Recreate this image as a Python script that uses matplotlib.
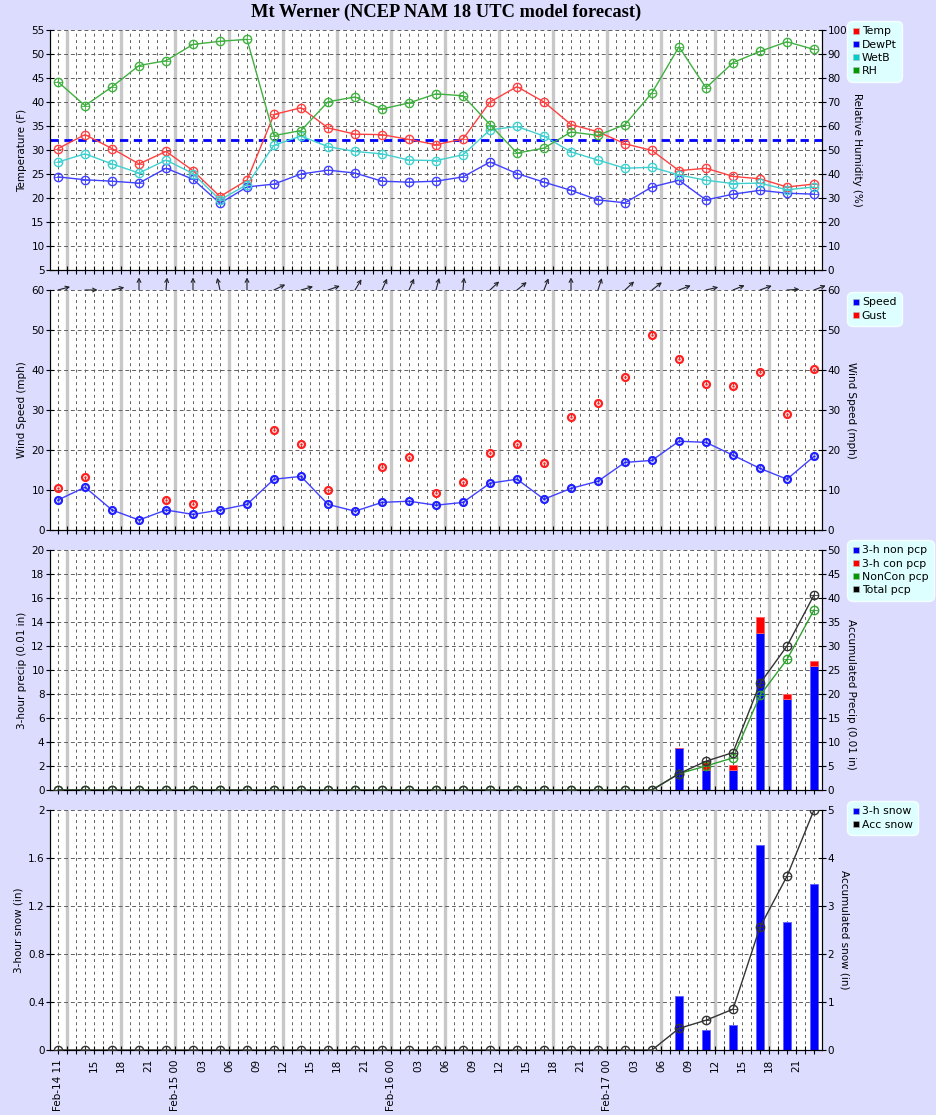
import numpy as np
import matplotlib
matplotlib.use('Agg')
import matplotlib.pyplot as plt
from matplotlib.lines import Line2D
from matplotlib import transforms

plt.rcParams['font.family'] = ['DejaVu Sans']
plt.rcParams['font.size'] = 7.5

# forecast hours (hours after Feb-14 00), every 3 h
valid_hours = [11, 14, 17, 20, 23, 26, 29, 32, 35, 38, 41, 44, 47, 50, 53,
               56, 59, 62, 65, 68, 71, 74, 77, 80, 83, 86, 89, 92, 95]

tick_hours = [11, 15, 18, 21, 24, 27, 30, 33, 36, 39, 42, 45, 48, 51, 54,
              57, 60, 63, 66, 69, 72, 75, 78, 81, 84, 87, 90, 93]
tick_labels = ["Feb-14 11", "15", "18", "21", "Feb-15 00", "03", "06", "09",
               "12", "15", "18", "21", "Feb-16 00", "03", "06", "09", "12",
               "15", "18", "21", "Feb-17 00", "03", "06", "09", "12", "15",
               "18", "21"]

temp = [30.3, 33.2, 30.3, 27.1, 29.7, 25.7, 20.3, 23.7, 37.4, 38.8, 34.6, 33.3,
        33.2, 32.2, 31.1, 32.3, 40.0, 43.2, 40.0, 35.3, 33.8, 31.3, 29.9, 25.7,
        26.2, 24.5, 24.0, 22.3, 22.9]
dewpt = [24.4, 23.8, 23.5, 23.1, 26.2, 23.9, 18.9, 22.3, 22.9, 25.0, 25.8, 25.2,
         23.5, 23.3, 23.5, 24.4, 27.5, 25.1, 23.3, 21.6, 19.6, 19.0, 22.3, 23.7,
         19.6, 20.8, 21.6, 21.0, 20.8]
wetb = [27.5, 29.2, 27.1, 25.2, 27.9, 25.1, 19.6, 22.8, 31.0, 32.9, 30.7, 29.7,
        29.2, 27.9, 27.8, 29.0, 34.2, 34.9, 32.9, 29.6, 27.9, 26.2, 26.4, 24.8,
        23.7, 23.0, 23.1, 21.7, 22.3]
rh = [78.4, 68.5, 76.3, 85.2, 87.2, 94.0, 95.3, 96.1, 56.0, 58.1, 70.1, 72.1,
      67.1, 69.6, 73.4, 72.6, 60.6, 48.7, 50.8, 57.5, 56.1, 60.6, 73.8, 93.0,
      75.9, 86.4, 91.1, 95.1, 91.9]
freezing = 32

wind_speed = [7.5, 10.7, 5.0, 2.5, 5.0, 3.9, 5.0, 6.4, 12.7, 13.4, 6.4, 4.7,
              6.9, 7.2, 6.2, 6.9, 11.7, 12.7, 7.7, 10.4, 12.2, 16.9, 17.4, 22.2,
              21.9, 18.7, 15.4, 12.7, 18.4]
wind_gust = [10.4, 13.2, np.nan, np.nan, 7.5, 6.5, np.nan, np.nan, 25.0, 21.4,
             10.0, np.nan, 15.7, 18.2, 9.2, 11.9, 19.2, 21.4, 16.7, 28.2, 31.7,
             38.3, 48.7, 42.7, 36.4, 35.9, 39.4, 28.9, 40.2]
# direction wind blows from (deg)
wind_dir = [255, 270, 258, 180, 185, 180, 167, 180, 244, 254, 251, 211, 204,
            204, 195, 185, 227, 231, 201, 180, 198, 227, 232, 249, 257, 248,
            250, 267, 249]

pcp_noncon = [0, 0, 0, 0, 0, 0, 0, 0, 0, 0, 0, 0, 0, 0, 0, 0, 0, 0, 0, 0, 0, 0,
              0, 3.5, 1.7, 1.7, 13.1, 7.6, 10.3]
pcp_con = [0, 0, 0, 0, 0, 0, 0, 0, 0, 0, 0, 0, 0, 0, 0, 0, 0, 0, 0, 0, 0, 0,
           0, 0, 0.75, 0.35, 1.3, 0.4, 0.45]
acc_noncon = [0, 0, 0, 0, 0, 0, 0, 0, 0, 0, 0, 0, 0, 0, 0, 0, 0, 0, 0, 0, 0, 0,
              0, 3.4, 5.0, 6.7, 19.7, 27.2, 37.5]
acc_total = [0, 0, 0, 0, 0, 0, 0, 0, 0, 0, 0, 0, 0, 0, 0, 0, 0, 0, 0, 0, 0, 0,
             0, 3.4, 6.0, 7.8, 22.2, 30.0, 40.6]

snow_3h = [0, 0, 0, 0, 0, 0, 0, 0, 0, 0, 0, 0, 0, 0, 0, 0, 0, 0, 0, 0, 0, 0,
           0, 0.45, 0.17, 0.21, 1.71, 1.07, 1.38]
snow_acc = [0, 0, 0, 0, 0, 0, 0, 0, 0, 0, 0, 0, 0, 0, 0, 0, 0, 0, 0, 0, 0, 0,
            0, 0.45, 0.62, 0.85, 2.56, 3.62, 5.0]

BG = '#dcdcff'
fig = plt.figure(figsize=(9.37, 11.15), dpi=100, facecolor=BG)
W, H = 937.0, 1115.0
left, width = 50 / W, 772 / W
tops = [30, 290, 550, 810]


def make_axes(top):
    ax = fig.add_axes([left, 1 - (top + 240) / H, width, 240 / H])
    ax.set_facecolor('white')
    ax.set_xlim(10.11, 95.89)
    for h in range(11, 96):
        ax.axvline(h, color='#606060', lw=0.7, ls=(0, (3, 3.5)), zorder=0.3)
    for h in range(12, 96, 6):
        ax.axvline(h, color='#c8c8c8', lw=2.4, zorder=0.4)
    ax.yaxis.grid(True, color='#606060', lw=0.7, ls=(0, (4, 3)), zorder=0.35)
    ax.set_axisbelow(True)
    ax.spines['top'].set_visible(False)
    ax.set_xticks(tick_hours)
    ax.set_xticks(range(11, 96), minor=True)
    ax.tick_params(axis='x', which='both', direction='inout', length=6, width=0.8)
    ax.tick_params(axis='y', direction='inout', length=6, width=0.8, pad=1)
    ax.set_xticklabels([])
    return ax


def make_twin(ax):
    t = ax.twinx()
    t.spines['top'].set_visible(False)
    t.tick_params(axis='y', direction='inout', length=6, width=0.8, pad=1)
    return t


def circ_plot(ax, x, y, c, ms=6, lw=1.0, mew=1.0):
    ax.plot(x, y, color=c, lw=lw, marker='o', ms=ms, mfc='none', mec=c,
            mew=mew, zorder=3)
    ax.plot(x, y, ls='none', marker='+', ms=ms, color=c, mew=0.6, zorder=3)


def add_legend(ax, labels, colors, y_anchor):
    handles = [Line2D([], [], ls='none', marker='s', ms=5, color=c,
                      mec='#bbbbbb', mew=0.4) for c in colors]
    leg = ax.legend(handles, labels, loc='upper left',
                    bbox_to_anchor=(1.034, y_anchor), borderaxespad=0,
                    fancybox=True, facecolor='#ddffff', edgecolor='#f4ffff',
                    framealpha=1, handlelength=0.6, handletextpad=0.25,
                    labelspacing=0.3, borderpad=0.4, fontsize=7.8)
    leg.get_frame().set_boxstyle('round,pad=0.1,rounding_size=0.5')
    return leg


# ---- panel 1: temperature ----
ax1 = make_axes(tops[0])
ax1.set_ylim(5, 55)
ax1.set_yticks(range(5, 56, 5))
ax1.set_ylabel('Temperature (F)', labelpad=3)
ax1r = make_twin(ax1)
ax1r.set_ylim(0, 100)
ax1r.set_yticks(range(0, 101, 10))
ax1r.set_ylabel('Relative Humidity (%)', rotation=270, labelpad=11)
ax1.axhline(freezing, color='#0000ff', lw=2, ls=(0, (3, 2)), zorder=2)
circ_plot(ax1, valid_hours, temp, '#ff4040')
circ_plot(ax1, valid_hours, dewpt, '#4040ff')
circ_plot(ax1, valid_hours, wetb, '#40d0d0')
circ_plot(ax1r, valid_hours, rh, '#40b040')
add_legend(ax1r, ['Temp', 'DewPt', 'WetB', 'RH'],
           ['#ff0000', '#0000ff', '#00cccc', '#009900'], 1.033)

# ---- panel 2: wind ----
ax2 = make_axes(tops[1])
ax2.set_ylim(0, 60)
ax2.set_yticks(range(0, 61, 10))
ax2.set_ylabel('Wind Speed (mph)', labelpad=3)
ax2r = make_twin(ax2)
ax2r.set_ylim(0, 60)
ax2r.set_yticks(range(0, 61, 10))
ax2r.set_ylabel('Wind Speed (mph)', rotation=270, labelpad=11)
ax2.plot(valid_hours, wind_speed, color='#4040ff', lw=1, marker='o', ms=5,
         mfc='none', mec='#2020ff', mew=1.6, zorder=3)
ax2.plot(valid_hours, wind_speed, ls='none', marker='.', ms=1.5,
         color='#2020ff', zorder=3)
ax2.plot(valid_hours, wind_gust, ls='none', marker='o', ms=5, mfc='none',
         mec='#ff2020', mew=1.6, zorder=3)
ax2.plot(valid_hours, wind_gust, ls='none', marker='.', ms=1.5,
         color='#ff2020', zorder=3)
add_legend(ax2r, ['Speed', 'Gust'], ['#0000ff', '#ff0000'], 0.9875)

trans = transforms.blended_transform_factory(ax2.transData, ax2.transAxes)
arrow_len = 9.0
for h, d in zip(valid_hours, wind_dir):
    ang = np.deg2rad(270 - d)
    head = transforms.offset_copy(trans, fig=fig, x=arrow_len * np.cos(ang),
                                  y=arrow_len * np.sin(ang), units='points')
    ax2.annotate('', xy=(h, 1.0), xycoords=head, xytext=(h, 1.0),
                 textcoords=trans, annotation_clip=False,
                 arrowprops=dict(arrowstyle='->,head_length=0.35,head_width=0.18',
                                 color='#222222', lw=0.8, shrinkA=0, shrinkB=0))

# ---- panel 3: precip ----
ax3 = make_axes(tops[2])
ax3.set_ylim(0, 20)
ax3.set_yticks(range(0, 21, 2))
ax3.set_ylabel('3-hour precip (0.01 in)', labelpad=3)
ax3.bar(valid_hours, pcp_noncon, width=0.9, color='#0000ff',
        edgecolor='#6060ff', lw=0.6, zorder=2)
ax3.bar(valid_hours, pcp_con, width=0.9, bottom=pcp_noncon, color='#ff0000',
        edgecolor='#ff6060', lw=0.6, zorder=2)
ax3r = make_twin(ax3)
ax3r.set_ylim(0, 50)
ax3r.set_yticks(range(0, 51, 5))
ax3r.set_ylabel('Accumulated Precip (0.01 in)', rotation=270, labelpad=11)
ax3r.yaxis.label.set_y(0.4)
circ_plot(ax3r, valid_hours, acc_noncon, '#30a030')
circ_plot(ax3r, valid_hours, acc_total, '#333333')
add_legend(ax3r, ['3-h non pcp', '3-h con pcp', 'NonCon pcp', 'Total pcp'],
           ['#0000ff', '#ff0000', '#009900', '#000000'], 1.0375)

# ---- panel 4: snow ----
ax4 = make_axes(tops[3])
ax4.set_ylim(0, 2)
ax4.set_yticks([0, 0.4, 0.8, 1.2, 1.6, 2])
ax4.set_yticklabels(['0', '0.4', '0.8', '1.2', '1.6', '2'])
ax4.set_ylabel('3-hour snow (in)', labelpad=3)
ax4.bar(valid_hours, snow_3h, width=0.9, color='#0000ff',
        edgecolor='#6060ff', lw=0.6, zorder=2)
ax4r = make_twin(ax4)
ax4r.set_ylim(0, 5)
ax4r.set_yticks(range(0, 6))
ax4r.set_ylabel('Accumulated snow (in)', rotation=270, labelpad=11)
circ_plot(ax4r, valid_hours, snow_acc, '#333333')
add_legend(ax4r, ['3-h snow', 'Acc snow'], ['#0000ff', '#000000'], 1.033)
ax4.set_xticklabels(tick_labels, rotation=90)

fig.text(446 / W, 1 - 12 / H, 'Mt Werner (NCEP NAM 18 UTC model forecast)',
         ha='center', va='center', fontsize=13.3, fontweight='bold',
         family='Liberation Serif')

fig.savefig('out.png', dpi=100, facecolor=BG)
